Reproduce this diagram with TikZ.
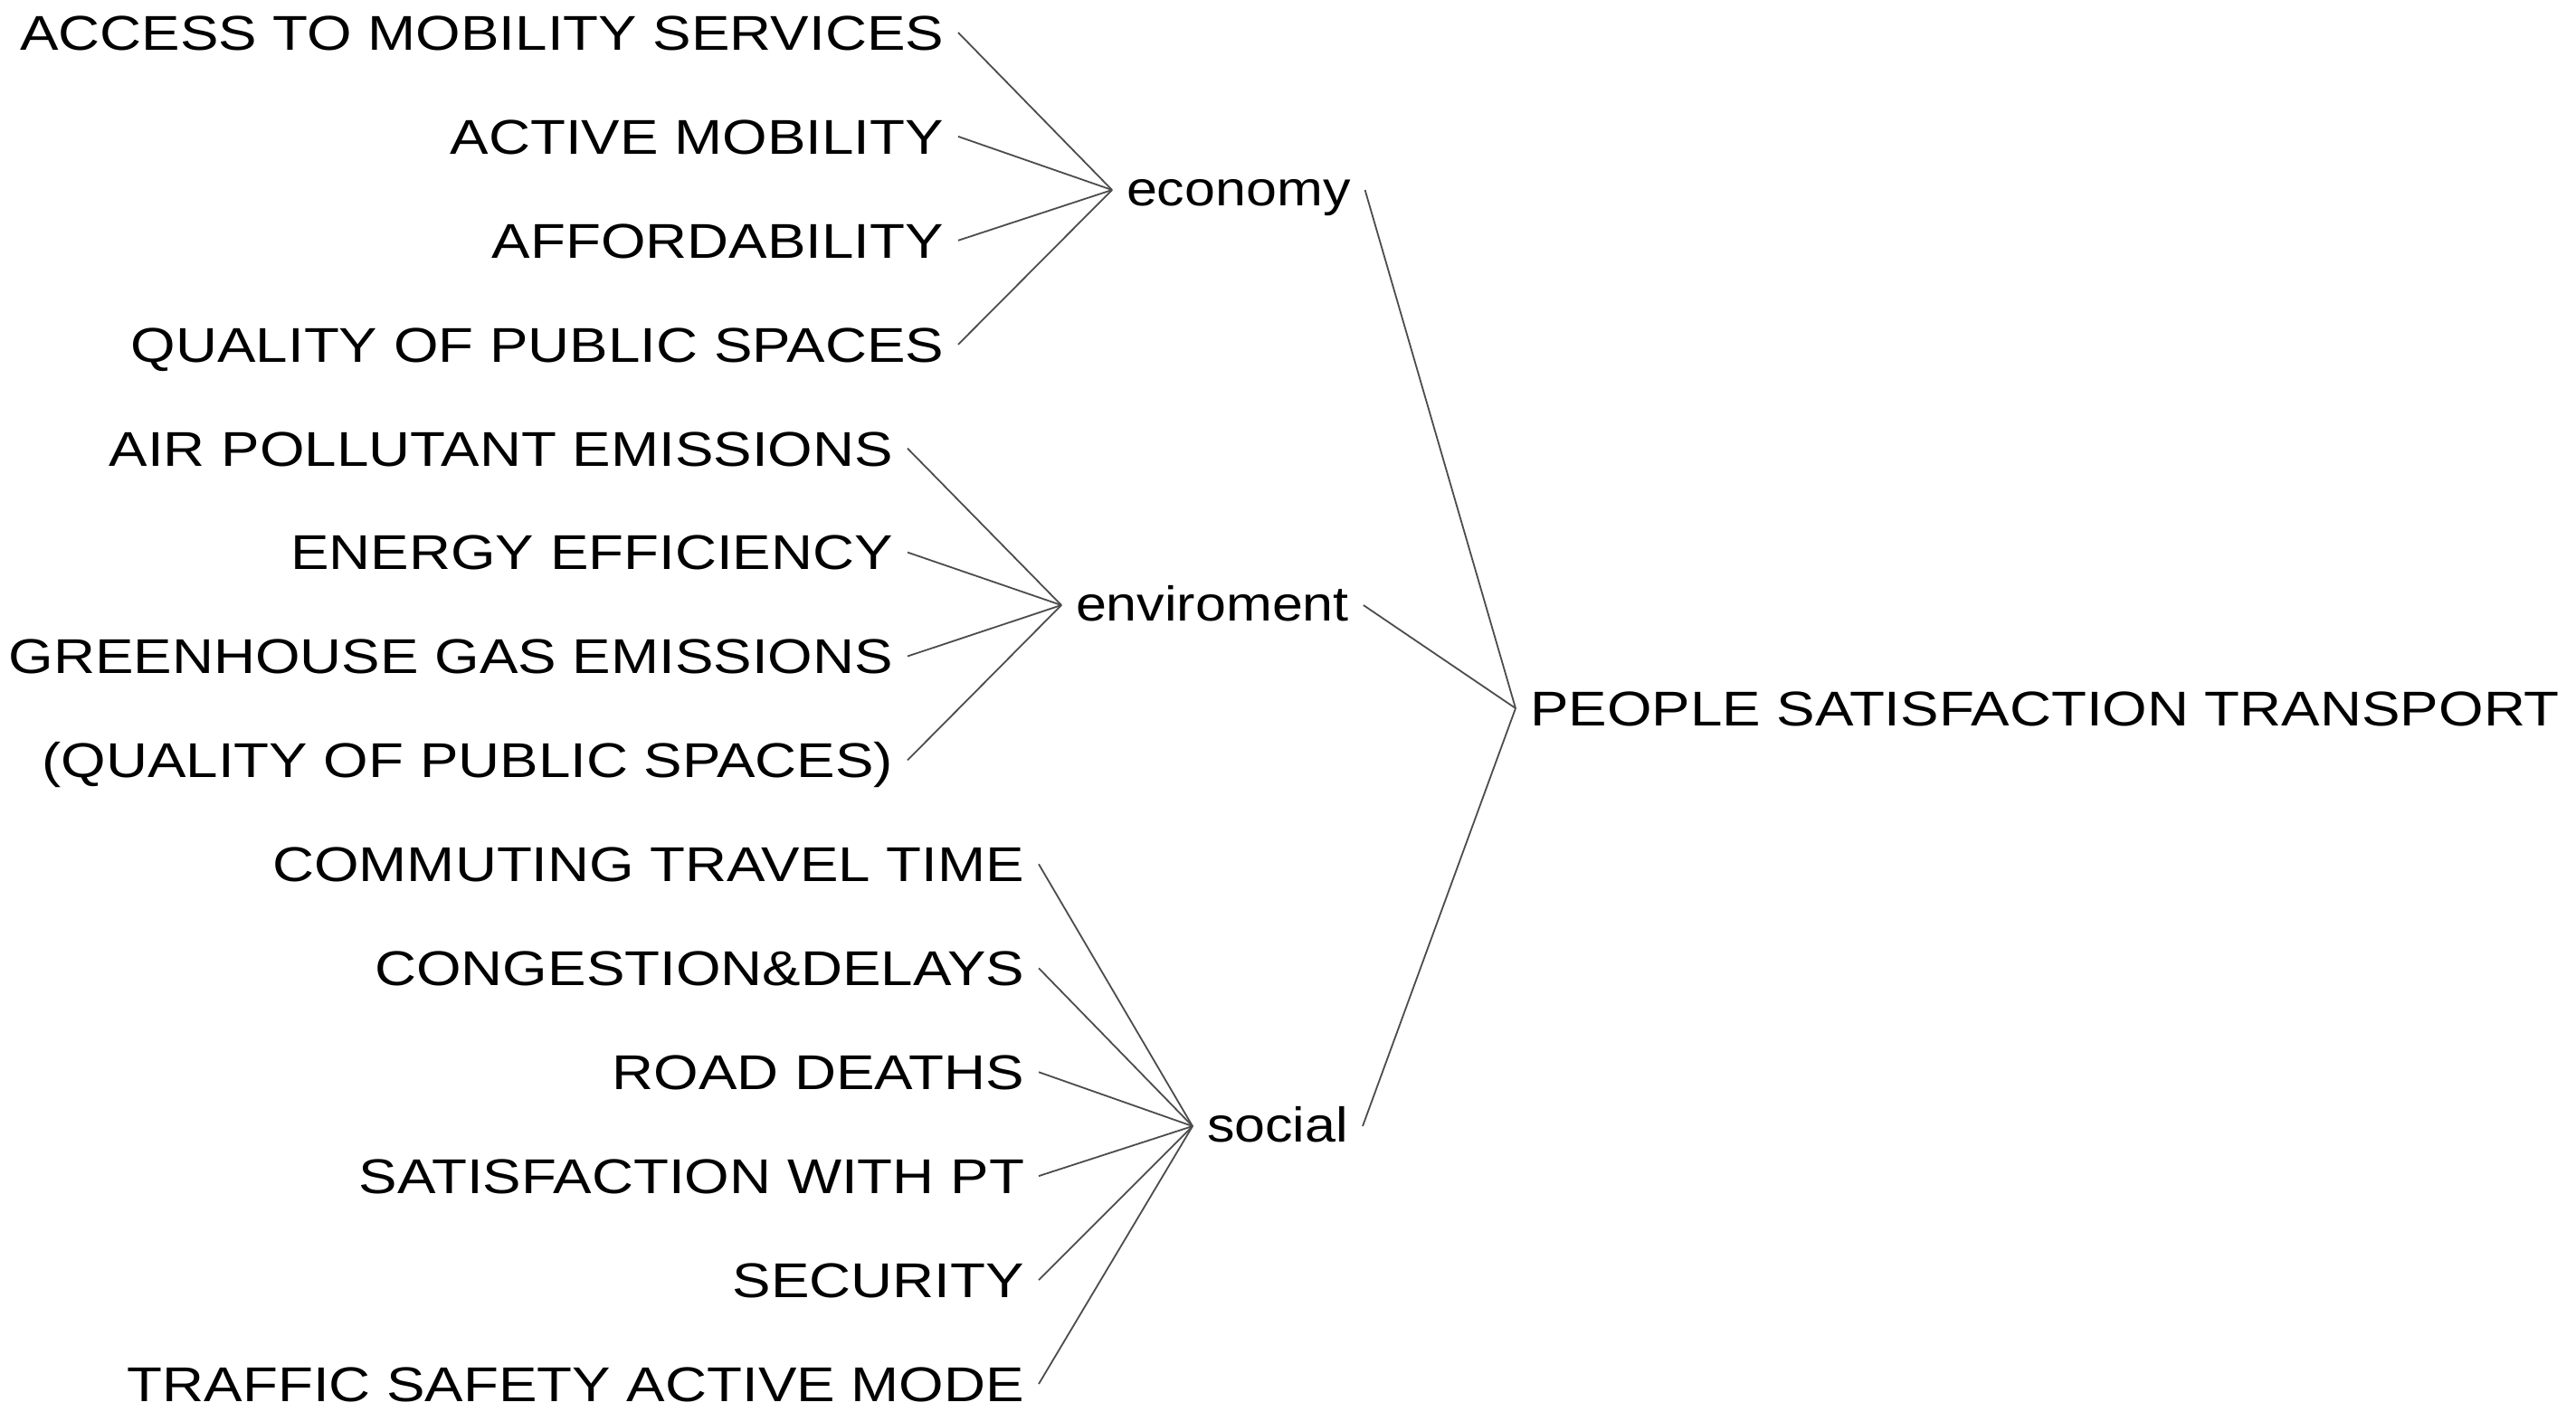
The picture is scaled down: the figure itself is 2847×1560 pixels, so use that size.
\documentclass[tikz,border=0pt]{standalone}
\usepackage{fontspec}
\setmainfont{Liberation Sans}[FakeStretch=1.18]
\newfontfamily\grpfont{Liberation Sans}[FakeStretch=1.13]
\begin{document}
\begin{tikzpicture}[x=0.5pt,y=-0.5pt,
  leaf/.style={inner sep=0pt, outer xsep=8pt, outer ysep=0pt,
    text height=19.3pt, text depth=0pt,
    font=\fontsize{27}{30}\selectfont, anchor=east},
  grp/.style={leaf, text height=17pt, anchor=west,
    font=\grpfont\fontsize{27}{30}\selectfont},
  rootnode/.style={leaf, anchor=west},
  link/.style={draw=black!70, line width=0.9pt}]
\useasboundingbox (0,0) rectangle (2847,1560);
% economy leaves
\node[leaf] (e1) at (1059,36)    {ACCESS TO MOBILITY SERVICES};
\node[leaf] (e2) at (1059,150.9) {ACTIVE MOBILITY};
\node[leaf] (e3) at (1059,265.8) {AFFORDABILITY};
\node[leaf] (e4) at (1059,380.8) {QUALITY OF PUBLIC SPACES};
% environment leaves
\node[leaf] (v1) at (1003,495.7) {AIR POLLUTANT EMISSIONS};
\node[leaf] (v2) at (1003,610.6) {ENERGY EFFICIENCY};
\node[leaf] (v3) at (1003,725.5) {GREENHOUSE GAS EMISSIONS};
\node[leaf] (v4) at (1003,840.4) {(QUALITY OF PUBLIC SPACES)};
% social leaves
\node[leaf] (s1) at (1148,955.3)  {COMMUTING TRAVEL TIME};
\node[leaf] (s2) at (1148,1070.3) {CONGESTION\&DELAYS};
\node[leaf] (s3) at (1148,1185.2) {ROAD DEATHS};
\node[leaf] (s4) at (1148,1300.1) {SATISFACTION WITH PT};
\node[leaf] (s5) at (1148,1415)   {SECURITY};
\node[leaf] (s6) at (1148,1530)   {TRAFFIC SAFETY ACTIVE MODE};
% groups
\node[grp] (eco) at (1229,210)  {economy};
\node[grp] (env) at (1173,669)  {enviroment};
\node[grp] (soc) at (1318,1245) {social};
% root
\node[rootnode] (root) at (1675,783) {PEOPLE SATISFACTION TRANSPORT};
% connectors
\foreach \n in {e1,e2,e3,e4} \draw[link] (\n.east) -- (eco.west);
\foreach \n in {v1,v2,v3,v4} \draw[link] (\n.east) -- (env.west);
\foreach \n in {s1,s2,s3,s4,s5,s6} \draw[link] (\n.east) -- (soc.west);
\foreach \n in {eco,env,soc} \draw[link] (\n.east) -- (root.west);
\end{tikzpicture}
\end{document}
